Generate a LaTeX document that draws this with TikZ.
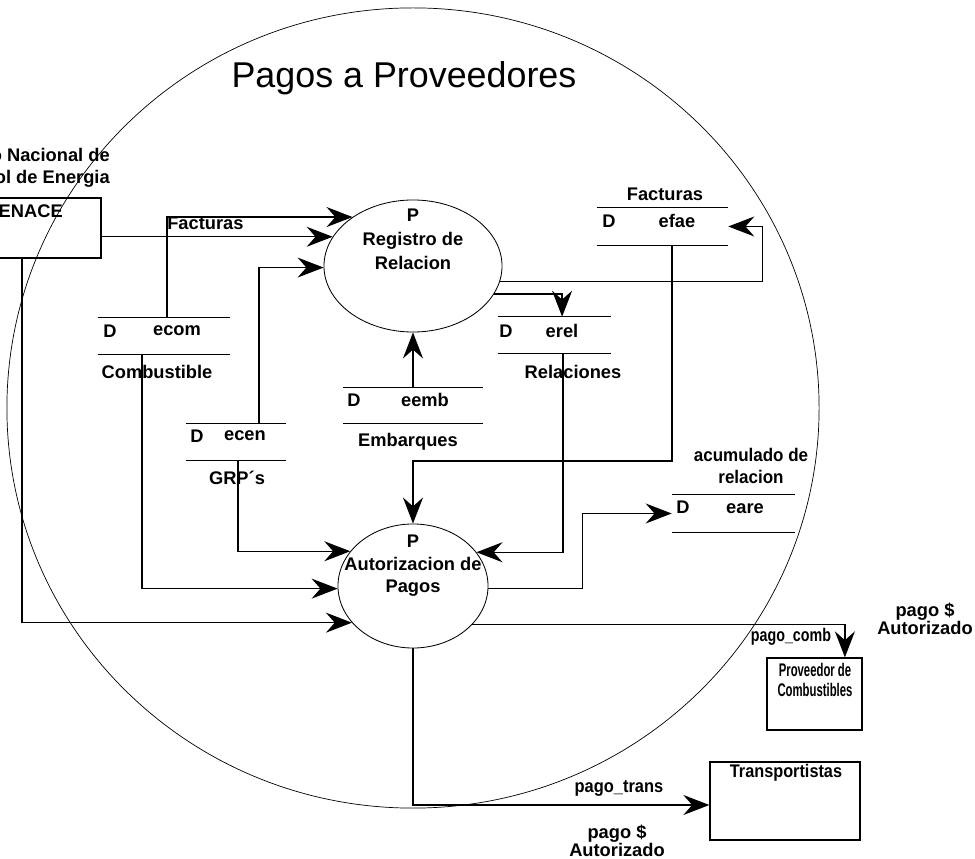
\documentclass[tikz,border=0pt]{standalone}
\usepackage{fontspec}
\setmainfont{Liberation Sans}
\usetikzlibrary{arrows.meta,shapes.geometric}
% draws the two horizontal rules of a data store
\newcommand\storerules[1]{%
  \draw[storeline] (#1.north west) -- (#1.north east) (#1.south west) -- (#1.south east);}
% horizontally condensed text
\newcommand\condensed[2]{\scalebox{#1}[1]{#2}}
\begin{document}
\begin{tikzpicture}[x=0.025cm,y=-0.025cm,
  every node/.style={font=\bfseries\fontsize{13}{16}\selectfont, inner sep=0pt},
  flow/.style={draw, line width=0.9pt, -{Stealth[length=0.65cm,width=0.5cm,inset=0.22cm]}},
  storeline/.style={line width=0.9pt},
  proc/.style={ellipse, draw, line width=0.6pt},
  store/.style={minimum height=0.9cm},
  entity/.style={rectangle, draw, line width=0.9pt}]
\useasboundingbox (0,0) rectangle (975,859);
\clip (0,0) rectangle (975,859);

% system boundary and title
\node[ellipse, draw, line width=0.5pt, minimum width=20.3cm, minimum height=20cm] (bound) at (413,408) {};
\node[font=\fontsize{25.5}{30}\selectfont] (title) at (404,78) {Pagos a Proveedores};

% external entities
\node[entity, minimum width=3.775cm, minimum height=1.5cm] (cen) at (25.5,228) {};
\node[anchor=east] (centxt) at (63,211) {CENACE};
\node[anchor=east, align=right] (cenname) at (110,168) {Centro Nacional de\\Control de Energia};

\node[entity, minimum width=2.375cm, minimum height=1.8cm] (prov) at (814.5,694) {};
\node[align=center, font=\bfseries\fontsize{13}{14}\selectfont] (provtxt) at (815,680)
  {\condensed{0.62}{Proveedor de}\\\condensed{0.62}{Combustibles}};

\node[entity, minimum width=3.75cm, minimum height=1.95cm] (trans) at (785,801) {};
\node (transtxt) at (786,773) {\condensed{0.89}{Transportistas}};

% processes
\node[proc, minimum width=4.45cm, minimum height=3.3cm] (regis) at (413,266) {};
\node[align=center, font=\bfseries\fontsize{13}{17}\selectfont] (registxt) at (413,239) {P\\Registro de\\Relacion};

\node[proc, minimum width=3.75cm, minimum height=3.1cm] (auto) at (413,586) {};
\node[align=center, font=\bfseries\fontsize{13}{16}\selectfont] (autotxt) at (413,566) {P\\Autorizacion de\\Pagos};

% data stores
\node[store, minimum width=3.3cm] (ecom) at (164,336) {};
\storerules{ecom}
\node (ecomD) at (110,331) {D};
\node (ecomid) at (177,331) {ecom};
\node (ecomlbl) at (157,372) {Combustible};

\node[store, minimum width=2.5cm] (ecen) at (236,442) {};
\storerules{ecen}
\node (ecenD) at (197,436) {D};
\node (ecenid) at (245,436) {ecen};
\node (ecenlbl) at (237,478) {GRP´s};

\node[store, minimum width=3.475cm, minimum height=0.875cm] (eemb) at (413,405.5) {};
\storerules{eemb}
\node (eembD) at (354,400) {D};
\node (eembid) at (425,400) {eemb};
\node (eemblbl) at (408,442) {Embarques};

\node[store, minimum width=2.825cm] (erel) at (554.5,335) {};
\storerules{erel}
\node (erelD) at (506,331) {D};
\node (erelid) at (562,331) {erel};
\node (erellbl) at (573,372) {Relaciones};

\node[store, minimum width=3.275cm, minimum height=0.925cm] (efae) at (662.5,226.5) {};
\storerules{efae}
\node (efaeD) at (609,221) {D};
\node (efaeid) at (677,221) {efae};
\node (efaelbl) at (665,194) {Facturas};

\node[store, minimum width=3.075cm, minimum height=0.925cm] (eare) at (733.5,513.5) {};
\storerules{eare}
\node (eareD) at (683,507) {D};
\node (eareid) at (745,509) {eare};
\node[align=center, font=\bfseries\fontsize{13}{15.5}\selectfont] (earelbl) at (751,466)
  {\condensed{0.93}{acumulado de}\\\condensed{0.93}{relacion}};

% flows into Registro de Relacion
\draw[flow] (regis.160 -| cen.east) -- (regis.160);
\draw[flow] ([xshift=0.075cm]ecom.north) |- (regis.141.8);
\draw[flow] ([xshift=0.575cm]ecen.north) |- (regis.181);
\draw[flow] (eemb.north) -- (regis.south);
\node[anchor=west] (lblfact) at (167,223) {Facturas};

% flows out of Registro de Relacion
\draw[flow] (regis.-19.2) -| ([xshift=0.19cm]erel.north);
\draw[flow] (regis.-10.5) -| ([xshift=0.85cm]efae.east) -- (efae.east);

% flows into Autorizacion de Pagos
\coordinate (j1) at (540,461);
\draw[flow] ([xshift=0.24cm]efae.south) |- (j1) -| (auto.north);
\draw[flow] ([xshift=0.21cm]erel.south) |- (auto.28.5);
\draw[flow] ([xshift=0.05cm]ecen.south) |- (auto.151.5);
\draw[flow] ([xshift=-0.55cm]ecom.south) |- (auto.182);
\draw[flow] ([xshift=-0.0875cm]cen.south) |- (auto.211.6);

% flows out of Autorizacion de Pagos
\draw[flow] (auto.-2) -| ([xshift=-2.225cm]eare.west) -- (eare.west);
\draw[flow] (auto.-33.8) -| ([xshift=0.76cm]prov.north);
\draw[flow] (auto.south) |- ([yshift=-0.1cm]trans.west);

% payment labels
\node (lblcomb) at (791,637) {\condensed{0.78}{pago\_comb}};
\node[align=center, font=\bfseries\fontsize{13}{13}\selectfont] (lblpago1) at (925,619) {pago \$\\Autorizado};
\node (lbltrans) at (619,788) {\condensed{0.9}{pago\_trans}};
\node[align=center, font=\bfseries\fontsize{13}{13}\selectfont] (lblpago2) at (617,841) {pago \$\\Autorizado};
\end{tikzpicture}
\end{document}
